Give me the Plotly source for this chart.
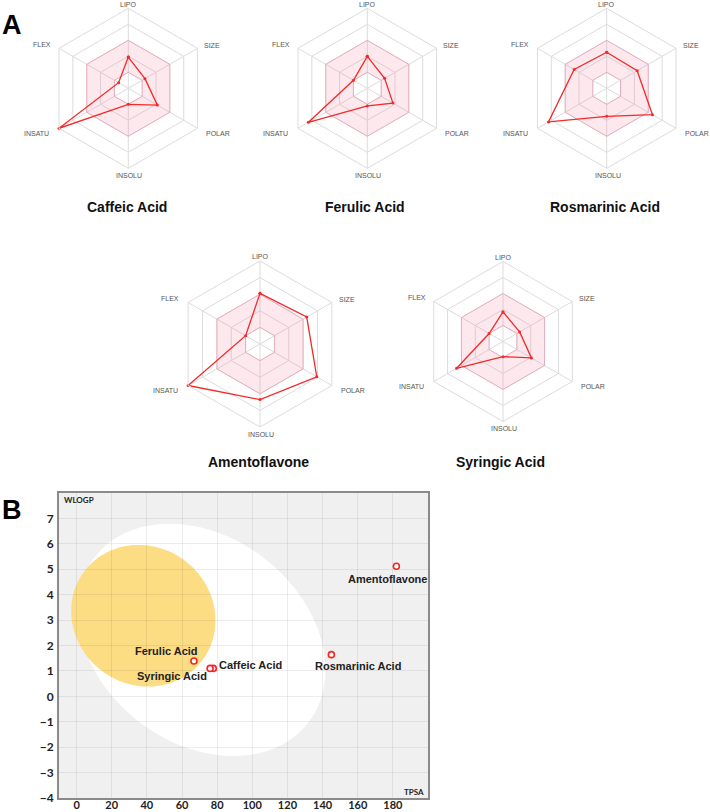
import numpy as np
import plotly.graph_objects as go

# ---------------- data ----------------
AXES = ["LIPO", "SIZE", "POLAR", "INSOLU", "INSATU", "FLEX"]
COMPOUNDS = ["Caffeic Acid", "Ferulic Acid", "Rosmarinic Acid", "Amentoflavone", "Syringic Acid"]

caffeic_radar = [0.39, 0.24, 0.42, 0.20, 1.00, 0.14]
ferulic_radar = [0.40, 0.25, 0.37, 0.22, 0.85, 0.20]
rosmarinic_radar = [0.45, 0.44, 0.66, 0.35, 0.84, 0.47]
amentoflavone_radar = [0.61, 0.65, 0.79, 0.67, 1.00, 0.20]
syringic_radar = [0.37, 0.24, 0.41, 0.19, 0.67, 0.20]
RADAR_VALUES = [caffeic_radar, ferulic_radar, rosmarinic_radar, amentoflavone_radar, syringic_radar]

OPT_INNER = 0.2
OPT_OUTER = 0.6
RADIAL_GRID = [0.2, 0.4, 0.6, 0.8, 1.0]

# BOILED-Egg (TPSA vs WLOGP)
tpsa = [77.8, 66.8, 145.0, 182.0, 76.0]
wlogp = [1.10, 1.39, 1.64, 5.12, 1.10]
X_TICKS = [0, 20, 40, 60, 80, 100, 120, 140, 160, 180]
Y_TICKS = [-4, -3, -2, -1, 0, 1, 2, 3, 4, 5, 6, 7]

# ellipses: centre and two conjugate half-axis vectors (data units)
HIA_CENTER = (71.1, 2.22)
HIA_V1 = (60.6, -3.27)
HIA_V2 = (-36.1, -3.19)
BBB_CENTER = (38.0, 3.17)
BBB_V1 = (33.6, -1.75)
BBB_V2 = (-23.6, -2.17)

# ---------------- layout helpers ----------------
W, H = 710, 812
def px(x):
    return x / W
def py(y):
    return 1 - y / H

# radar centres / radii (pixels)
radar_pos = [(128.3, 88.3, 80), (367.3, 88.3, 80), (606.7, 88.3, 80), (260, 344, 83), (503, 341.5, 80)]
title_pos = [(127, 207), (365, 207), (605, 207), (258, 462), (501, 462)]
# axis-label centre offsets (pixels, for an outer radius of 80)
LABEL_OFF = [(0, -84), (84, -43), (90, 45), (1, 87), (-91.5, 45), (-86.5, -44)]

GRID = "#dcdcdc"
PINK_FILL = "rgba(240,120,150,0.17)"
PINK_LINE = "rgba(235,120,150,0.40)"
RED = "#f42a2a"

fig = go.Figure()
layout_polars = {}
annotations = []

for i, vals in enumerate(RADAR_VALUES):
    pid = "polar" if i == 0 else f"polar{i+1}"
    outer = AXES + [AXES[0]]
    inner = list(reversed(outer))
    fig.add_trace(go.Scatterpolar(
        theta=outer + inner, r=[OPT_OUTER] * 7 + [OPT_INNER] * 7,
        mode="lines", fill="toself", fillcolor=PINK_FILL,
        line=dict(width=0, color="rgba(0,0,0,0)"), subplot=pid, showlegend=False, hoverinfo="skip"))
    for rr in (OPT_OUTER, OPT_INNER):
        fig.add_trace(go.Scatterpolar(
            theta=outer, r=[rr] * 7, mode="lines",
            line=dict(width=1, color=PINK_LINE), subplot=pid, showlegend=False, hoverinfo="skip"))
    fig.add_trace(go.Scatterpolar(
        theta=AXES + [AXES[0]], r=vals + [vals[0]], mode="lines+markers",
        line=dict(width=1.3, color=RED), marker=dict(size=3, color=RED),
        subplot=pid, showlegend=False, name=COMPOUNDS[i]))
    cx, cy, rad = radar_pos[i]
    layout_polars[pid] = dict(
        domain=dict(x=[px(cx - rad), px(cx + rad)], y=[py(cy + rad), py(cy - rad)]),
        bgcolor="rgba(0,0,0,0)",
        gridshape="linear",
        angularaxis=dict(type="category", categoryarray=AXES, direction="clockwise", rotation=90,
                         showline=True, linecolor=GRID, linewidth=1, gridcolor=GRID, ticks="",
                         showticklabels=False),
        radialaxis=dict(range=[0, 1], tickvals=RADIAL_GRID, showticklabels=False, ticks="",
                        showline=False, gridcolor=GRID),
    )
    s = rad / 80.0
    for lab, (ox, oy) in zip(AXES, LABEL_OFF):
        annotations.append(dict(x=px(cx + ox * s), y=py(cy + oy * s), xref="paper", yref="paper",
                                text=lab, showarrow=False, xanchor="center", yanchor="middle",
                                font=dict(family="Liberation Sans, Arial", size=7, color="#555")))
    tx, ty = title_pos[i]
    annotations.append(dict(x=px(tx), y=py(ty), xref="paper", yref="paper", text=COMPOUNDS[i],
                            showarrow=False, xanchor="center", yanchor="middle",
                            font=dict(family="Liberation Sans, Arial", size=14, color="#111", weight="bold")))

# ---------------- BOILED-Egg ----------------
def ellipse_path(center, v1, v2, n=120):
    t = np.linspace(0, 2 * np.pi, n)
    xs = center[0] + v1[0] * np.cos(t) + v2[0] * np.sin(t)
    ys = center[1] + v1[1] * np.cos(t) + v2[1] * np.sin(t)
    return "M " + " L ".join(f"{x:.3f},{y:.3f}" for x, y in zip(xs, ys)) + " Z"

shapes = [
    dict(type="path", path=ellipse_path(HIA_CENTER, HIA_V1, HIA_V2), xref="x", yref="y",
         fillcolor="white", line=dict(width=0), layer="below"),
    dict(type="path", path=ellipse_path(BBB_CENTER, BBB_V1, BBB_V2), xref="x", yref="y",
         fillcolor="rgb(252,221,131)", line=dict(width=0), layer="below"),
]

fig.add_trace(go.Scatter(
    x=tpsa, y=wlogp, mode="markers", xaxis="x", yaxis="y", showlegend=False,
    marker=dict(size=6, color="white", line=dict(color="#ff2020", width=1.6)),
    text=COMPOUNDS, hoverinfo="text"))

label_offsets = [(37, 3), (-27, 10), (27, -11), (-9, -13), (-38, -8)]
for i, name in enumerate(COMPOUNDS):
    dx, dy = label_offsets[i]
    annotations.append(dict(x=tpsa[i], y=wlogp[i], xref="x", yref="y", text=name, showarrow=False,
                            xshift=dx, yshift=dy, xanchor="center", yanchor="middle",
                            font=dict(family="Liberation Sans, Arial", size=11, color="#222", weight="bold")))

X0, X1, Y0, Y1 = 59, 428, 493, 798
annotations.append(dict(x=px(X0 + 3), y=py(Y0 + 7), xref="paper", yref="paper", text="WLOGP",
                        showarrow=False, xanchor="left", yanchor="middle",
                        font=dict(family="Lato", size=8, color="#222", weight="bold")))
annotations.append(dict(x=px(X1 - 2), y=py(Y1 - 6), xref="paper", yref="paper", text="TPSA",
                        showarrow=False, xanchor="right", yanchor="middle",
                        font=dict(family="Lato", size=8, color="#222", weight="bold")))
annotations.append(dict(x=px(12), y=py(25), xref="paper", yref="paper", text="A", showarrow=False,
                        xanchor="center", yanchor="middle",
                        font=dict(family="Liberation Sans, Arial", size=27, color="#000", weight="bold")))
annotations.append(dict(x=px(12), y=py(510), xref="paper", yref="paper", text="B", showarrow=False,
                        xanchor="center", yanchor="middle",
                        font=dict(family="Liberation Sans, Arial", size=27, color="#000", weight="bold")))

EGG_GRID = "rgba(0,0,0,0.07)"
fig.update_layout(
    width=W, height=H, margin=dict(l=0, r=0, t=0, b=0, autoexpand=False),
    paper_bgcolor="white", plot_bgcolor="rgb(240,240,240)",
    showlegend=False,
    shapes=shapes, annotations=annotations,
    xaxis=dict(domain=[px(X0), px(X1)], range=[-10, 200], tickvals=X_TICKS, showgrid=True,
               gridcolor=EGG_GRID, zeroline=False, showline=True, mirror=True, linecolor="#8a8a8a",
               linewidth=2, ticks="", ticklabelstandoff=-4, automargin=False,
               tickfont=dict(family="Lato", size=11, color="#222", weight="bold"),
               anchor="y", fixedrange=True),
    yaxis=dict(domain=[py(Y1), py(Y0)], range=[-4, 8], tickvals=Y_TICKS, showgrid=True,
               gridcolor=EGG_GRID, zeroline=False, showline=True, mirror=True, linecolor="#8a8a8a",
               linewidth=2, ticks="", ticklabelstandoff=1, automargin=False,
               tickfont=dict(family="Lato", size=12, color="#222", weight="bold"),
               anchor="x", fixedrange=True),
    **layout_polars,
)

fig.write_html("out.html", config={"displayModeBar": False},
               post_script="document.body.style.margin='0';document.body.style.overflow='hidden';")
